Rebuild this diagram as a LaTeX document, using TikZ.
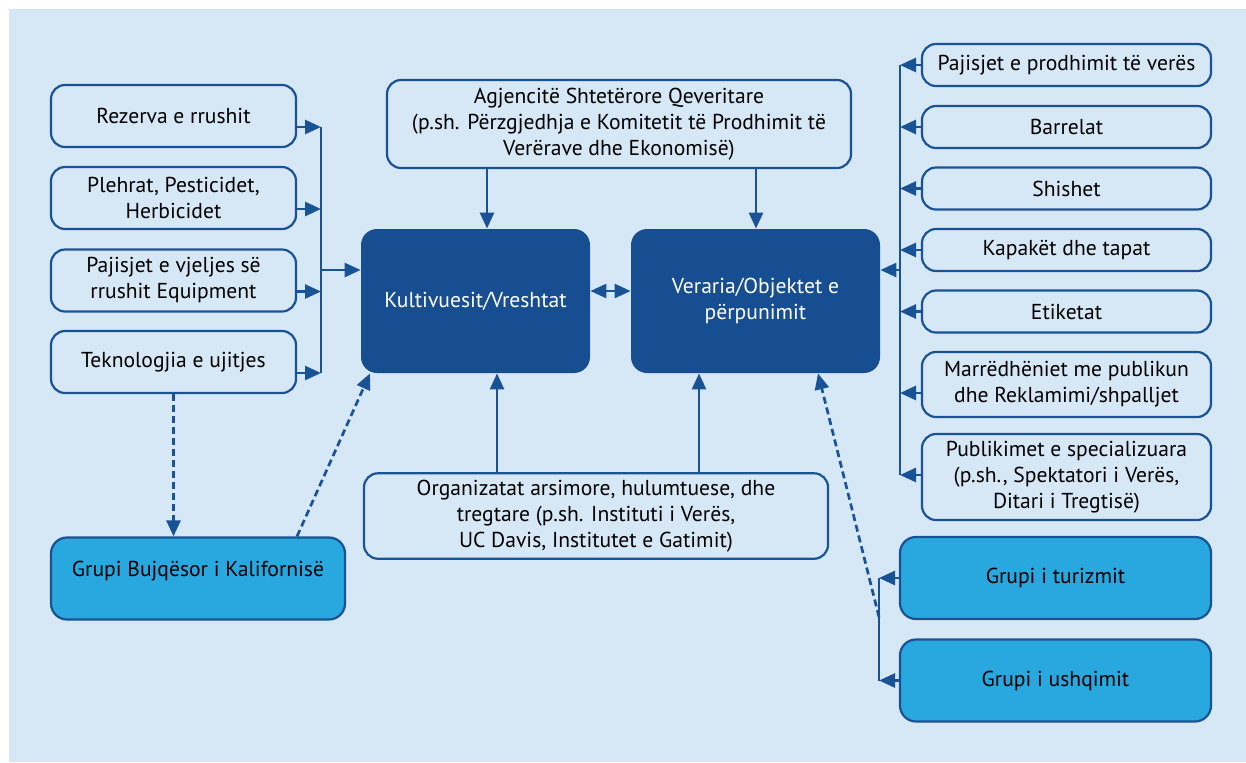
\documentclass[tikz,border=0pt]{standalone}
\usepackage{fontspec}
\setmainfont{PT Sans}
\usetikzlibrary{arrows.meta}

\definecolor{bgblue}{HTML}{D6E8F6}
\definecolor{navy}{HTML}{1A5296}
\definecolor{darkbox}{HTML}{164E91}
\definecolor{skyblue}{HTML}{29A8E0}

\begin{document}
\begin{tikzpicture}[
x=0.5pt, y=-0.5pt,
>={Triangle[length=8pt,width=7pt]},
every node/.style={font=\fontsize{10.8}{13}\selectfont, align=center},
actor/.style={rectangle, rounded corners=7pt, draw=navy, line width=1.1pt, fill=bgblue},
leftbox/.style={actor, minimum width=122.5pt, minimum height=31pt},
rightbox/.style={actor, minimum width=144.5pt, minimum height=21pt},
hub/.style={rectangle, rounded corners=8pt, fill=darkbox, text=white, minimum height=72pt},
group/.style={rectangle, rounded corners=8pt, draw=navy, line width=1.1pt, fill=skyblue, minimum height=41pt},
line/.style={->, navy, line width=1.35pt},
bline/.style={<->, navy, line width=1.35pt},
dline/.style={->, navy, line width=1.35pt, dash pattern=on 3.5pt off 2pt},
bus/.style={navy, line width=1.35pt}
]

\useasboundingbox (0,0) rectangle (1246,762);
\fill[bgblue] (9,9) rectangle (1246,762);

% Nodes
\node[leftbox] (rez) at (173.5,116) {Rezerva e rrushit};
\node[leftbox] (ple) at (173.5,198) {Plehrat, Pesticidet,\\Herbicidet};
\node[leftbox] (vje) at (173.5,280.5) {Pajisjet e vjeljes së\\rrushit Equipment};
\node[leftbox] (tek) at (173.5,362) {Teknologjia e ujitjes};

\node[hub, minimum width=114.5pt] (kult) at (475.5,301) {Kultivuesit/Vreshtat};
\node[hub, minimum width=124.5pt] (ver) at (755.5,301) {Veraria/Objektet e\\përpunimit};

\node[actor, minimum width=232pt, minimum height=44pt] (agj) at (619,124) {Agjencitë Shtetërore Qeveritare\\(p.sh. Përzgjedhja e Komitetit të Prodhimit të\\Verërave dhe Ekonomisë)};
\node[actor, minimum width=232pt, minimum height=41pt] (org) at (596,516) {Organizatat arsimore, hulumtuese, dhe\\tregtare (p.sh. Instituti i Verës,\\UC Davis, Institutet e Gatimit)};

\node[rightbox] (prod) at (1066.5,65) {Pajisjet e prodhimit të verës};
\node[rightbox] (bar) at (1066.5,127) {Barrelat};
\node[rightbox] (shi) at (1066.5,188.5) {Shishet};
\node[rightbox] (kap) at (1066.5,250) {Kapakët dhe tapat};
\node[rightbox] (eti) at (1066.5,311.5) {Etiketat};
\node[rightbox, minimum height=32.5pt] (mar) at (1066.5,384.5) {Marrëdhëniet me publikun\\dhe Reklamimi/shpalljet};
\node[rightbox, minimum height=43pt] (pub) at (1066.5,477) {Publikimet e specializuara\\(p.sh., Spektatori i Verës,\\Ditari i Tregtisë)};

\node[group, minimum width=147pt, text height=8pt, text depth=10.5pt] (buj) at (198,578.5) {Grupi Bujqësor i Kalifornisë};
\node[group, minimum width=155.5pt] (tur) at (1055.5,578) {Grupi i turizmit};
\node[group, minimum width=155.5pt] (ush) at (1055.5,680.5) {Grupi i ushqimit};

\coordinate (lbus) at (321,270);
\coordinate (rbus) at (900,270);
\coordinate (gbus) at (879,617);

% Connections
\foreach \n in {rez,ple,vje,tek}
  \draw[line] ([yshift=-5.5pt]\n.east) -- ([yshift=-5.5pt]\n.east -| lbus);
\draw[bus] ([yshift=-5.5pt]rez.east -| lbus) -- ([yshift=-5.5pt]tek.east -| lbus);
\draw[line] (lbus) -- (lbus -| kult.west);

\foreach \n in {prod,bar,shi,kap,eti}
  \draw[line] (\n.west) -- (\n.west -| rbus);
\draw[line] ([yshift=-4.25pt]mar.west) -- ([yshift=-4.25pt]mar.west -| rbus);
\draw[line] ([yshift=1pt]pub.west) -- ([yshift=1pt]pub.west -| rbus);
\draw[bus] (prod.west -| rbus) -- ([yshift=1pt]pub.west -| rbus);
\draw[line] (rbus) -- (rbus -| ver.east);

\draw[bline] ([yshift=5pt]kult.east) -- ([yshift=5pt]kult.east -| ver.west);

\draw[line] ([xshift=-66pt]agj.south) -- ([xshift=-66pt]agj.south |- kult.north);
\draw[line] ([xshift=68.5pt]agj.south) -- ([xshift=68.5pt]agj.south |- ver.north);
\draw[line] ([xshift=-49.5pt]org.north) -- ([xshift=-49.5pt]org.north |- kult.south);
\draw[line] ([xshift=51.5pt]org.north) -- ([xshift=51.5pt]org.north |- ver.south);

\draw[dline] (tek.south) -- (tek.south |- buj.north);
\draw[dline] ([xshift=49.5pt]buj.north) -- ([xshift=-52.75pt]kult.south);

\draw[line] (tur.west) -- (tur.west -| gbus);
\draw[line] (ush.west) -- (ush.west -| gbus);
\draw[bus] (tur.west -| gbus) -- (ush.west -| gbus);
\draw[dline] (gbus) -- ([xshift=31.25pt]ver.south);

\end{tikzpicture}
\end{document}
